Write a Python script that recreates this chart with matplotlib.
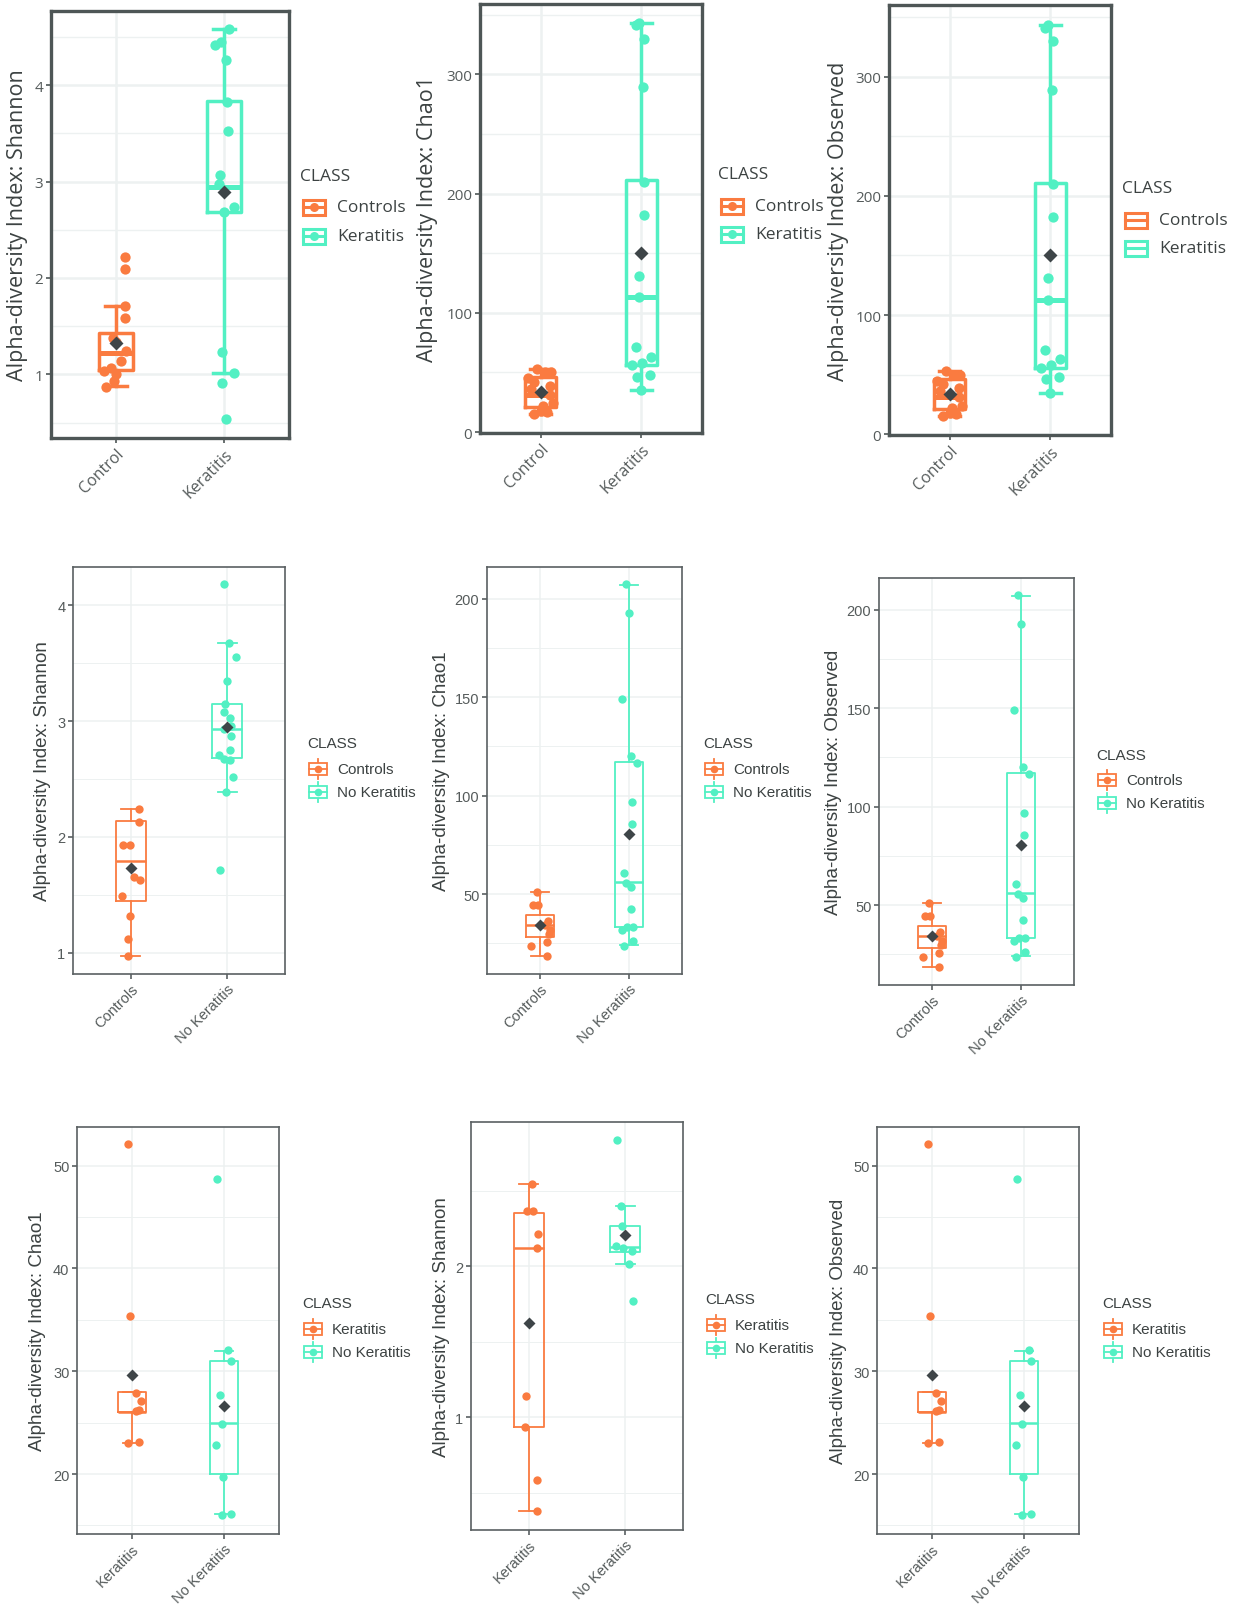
import numpy as np
import matplotlib
matplotlib.use('Agg')
from matplotlib import pyplot as plt
from matplotlib.patches import Rectangle

W, H = 1234, 1606
ORANGE = '#FA7B40'
TEAL = '#52F0C3'
MEAN_C = '#3E4548'
GRID_C = '#EDF1F1'

# --- Shannon : Control / Keratitis (row 1, left)
sh1_ctrl = [2.22, 2.09, 1.71, 1.59, 1.38, 1.34, 1.24, 1.14, 1.07, 1.04, 1.00, 0.93, 0.87]
sh1_ctrl_jit = [0.08, 0.08, 0.08, 0.08, -0.03, 0.0, 0.09, 0.05, -0.05, -0.11, 0.0, -0.02, -0.09]
sh1_ker = [4.58, 4.45, 4.42, 4.26, 3.83, 3.53, 3.07, 2.97, 2.74, 2.68, 1.23, 1.01, 0.91, 0.54]
sh1_ker_jit = [0.05, -0.03, -0.08, 0.02, 0.03, 0.04, -0.04, -0.05, 0.09, 0.0, -0.02, 0.09, -0.02, 0.02]
sh1_box = [[0.88, 1.05, 1.22, 1.43, 1.71], [1.01, 2.68, 2.94, 3.84, 4.58]]
sh1_mean = [1.33, 2.89]

# --- Chao1 / Observed : Control / Keratitis (row 1, middle and right)
ch1_ctrl = [53, 50, 50, 45, 42, 39, 36, 31, 24, 22, 18, 15, 17]
ch1_ctrl_jit = [-0.04, 0.04, 0.10, -0.12, -0.06, 0.09, -0.09, 0.09, 0.12, 0.02, 0.0, -0.06, 0.06]
ch1_ker = [341, 343, 330, 289, 210, 182, 131, 113, 71, 56, 58, 63, 48, 46, 35]
ch1_ker_jit = [-0.05, -0.02, 0.03, 0.02, 0.03, 0.03, -0.02, -0.02, -0.05, -0.09, 0.01, 0.09, 0.08, -0.04, 0.0]
ch1_box = [[15, 21, 31, 46, 53], [35, 56, 113, 211, 343]]
ch1_mean = [34, 150]

# --- Shannon : Controls / No Keratitis (row 2, left)
sh2_ctrl = [2.24, 2.13, 1.93, 1.93, 1.65, 1.63, 1.49, 1.32, 1.12, 0.97]
sh2_ctrl_jit = [0.08, 0.08, -0.08, -0.01, 0.03, 0.10, -0.09, -0.01, -0.03, -0.03]
sh2_nok = [4.18, 3.67, 3.55, 3.35, 3.15, 3.08, 3.03, 2.96, 2.93, 2.87, 2.75, 2.71, 2.67, 2.66, 2.52, 2.39, 1.71]
sh2_nok_jit = [-0.03, 0.02, 0.09, 0.0, -0.02, -0.03, 0.03, 0.04, -0.03, 0.04, 0.03, -0.08, -0.03, 0.03, 0.06, -0.01, -0.07]
sh2_box = [[0.97, 1.45, 1.79, 2.135, 2.24], [2.39, 2.68, 2.93, 3.15, 3.67]]
sh2_mean = [1.73, 2.95]

# --- Chao1 / Observed : Controls / No Keratitis (row 2, middle and right)
ch2_ctrl = [51.2, 44.6, 44.6, 36.5, 34.3, 32.0, 29.7, 23.8, 25.8, 18.7]
ch2_ctrl_jit = [-0.04, -0.08, -0.02, 0.09, 0.05, 0.11, 0.10, -0.10, 0.08, 0.08]
ch2_nok = [207.2, 192.8, 148.8, 120.0, 116.7, 96.7, 85.7, 60.7, 55.8, 53.6, 42.6, 32.0, 33.2, 33.2, 23.9, 26.0]
ch2_nok_jit = [-0.03, 0.0, -0.08, 0.02, 0.09, 0.04, 0.04, -0.06, -0.03, 0.03, 0.03, -0.08, -0.02, 0.05, -0.05, 0.05]
ch2_box = [[18.7, 28.5, 34.3, 39.5, 51.2], [24.0, 33.2, 56.0, 117.0, 207.0]]
ch2_mean = [34.3, 80.3]

# --- Chao1 / Observed : Keratitis / No Keratitis (row 3, left and right)
ch3_ker = [52.1, 35.4, 27.9, 27.1, 26.2, 26.1, 23.0, 23.1]
ch3_ker_jit = [-0.04, -0.02, 0.04, 0.10, 0.08, 0.04, -0.04, 0.08]
ch3_nok = [48.7, 32.1, 31.0, 27.7, 24.9, 22.85, 19.7, 16.05, 16.1]
ch3_nok_jit = [-0.08, 0.05, 0.08, -0.04, -0.02, -0.09, -0.01, -0.02, 0.08]
ch3_box = [[23.0, 26.0, 26.0, 28.0, 28.0], [16.1, 20.0, 25.0, 31.0, 32.0]]
ch3_mean = [29.6, 26.6]

# --- Shannon : Keratitis / No Keratitis (row 3, middle)
sh3_ker = [2.546, 2.363, 2.367, 2.217, 2.12, 1.139, 0.936, 0.582, 0.376]
sh3_ker_jit = [0.03, -0.02, 0.04, 0.10, 0.08, -0.03, -0.04, 0.08, 0.09]
sh3_nok = [2.834, 2.396, 2.27, 2.137, 2.12, 2.10, 2.015, 1.77]
sh3_nok_jit = [-0.09, -0.04, -0.03, -0.10, -0.02, 0.07, 0.04, 0.08]
sh3_box = [[0.376, 0.936, 2.12, 2.356, 2.544], [2.015, 2.097, 2.126, 2.27, 2.396]]
sh3_mean = [1.624, 2.208]

cats_ck = ["Control", "Keratitis"]
cats_cn = ["Controls", "No Keratitis"]
cats_kn = ["Keratitis", "No Keratitis"]
leg_ck = ["Controls", "Keratitis"]
leg_cn = ["Controls", "No Keratitis"]
leg_kn = ["Keratitis", "No Keratitis"]


def add_axes_px(fig, x0, y0, x1, y1):
    return fig.add_axes([x0 / W, 1 - y1 / H, (x1 - x0) / W, (y1 - y0) / H])


def draw_panel(ax, groups, jits, boxes, means, row1):
    lw = 2.5 if row1 else 1.3
    mlw = 3.6 if row1 else 1.8
    ms = 7.4 if row1 else 6.0
    for i, c in enumerate([ORANGE, TEAL]):
        pos = i + 1
        b = boxes[i]
        st = [dict(whislo=b[0], q1=b[1], med=b[2], q3=b[3], whishi=b[4], fliers=[])]
        ax.bxp(st, positions=[pos], widths=0.31, capwidths=0.2, showfliers=False,
               manage_ticks=False, zorder=2,
               boxprops=dict(color=c, lw=lw), whiskerprops=dict(color=c, lw=lw),
               capprops=dict(color=c, lw=lw), medianprops=dict(color=c, lw=mlw))
        ax.plot(pos + np.array(jits[i]), groups[i], 'o', color=c, ms=ms, mec='none', zorder=3)
        ax.plot(pos, means[i], 'D', color=MEAN_C, ms=ms * 1.0, mec='none', zorder=4)


def style_axes(ax, ylim, yticks, yminor, cats, ylabel, label_dx, row1):
    font = 'Open Sans' if row1 else 'Liberation Sans'
    ax.set_xlim(0.4, 2.6)
    ax.set_ylim(*ylim)
    ax.set_yticks(yticks)
    ax.set_yticklabels([str(t) for t in yticks], family=font, fontsize=11 if row1 else 10.5,
                       color='#555B5B')
    ax.set_yticks(yminor, minor=True)
    ax.set_xticks([1, 2])
    ax.set_xticklabels(cats, rotation=45, ha='right', va='top', rotation_mode='anchor',
                       family=font, fontsize=11.5 if row1 else 10.5, color='#555B5B')
    ax.grid(which='major', color=GRID_C, lw=1.8 if row1 else 1.1, zorder=0)
    ax.grid(which='minor', axis='y', color=GRID_C, lw=1.0 if row1 else 0.7, zorder=0)
    ax.set_axisbelow(True)
    sc = '#4E5656' if row1 else '#5A6062'
    for s in ax.spines.values():
        s.set_linewidth(2.4 if row1 else 1.2)
        s.set_color(sc)
    ax.tick_params(which='major', length=3.5, width=1.2, color=sc, pad=2)
    ax.tick_params(which='minor', length=0)
    ax.set_ylabel(ylabel, family=font, fontsize=15.5 if row1 else 13.5, color='#3C4242')
    w = ax.get_position().width * W
    ax.yaxis.set_label_coords(-label_dx / w, 0.5)
    ax.yaxis.label.set_va('center')


def draw_legend(ov, x, y_title, ys, labels, kind):
    row1 = kind in ('full', 'box')
    font = 'Open Sans' if row1 else 'Liberation Sans'
    fs = 12.5 if row1 else 11
    ov.text(x, y_title, "CLASS", family=font, fontsize=fs, color='#3C4242', va='center', ha='left')
    for y, lab, c in zip(ys, labels, [ORANGE, TEAL]):
        if row1:
            kx, kw, kh, lw, tx = x + 3, 22, 15, 2.2, x + 37
        else:
            kx, kw, kh, lw, tx = x + 2, 18, 12, 1.3, x + 30
        if kind == 'errbar':
            ov.plot([kx + kw / 2, kx + kw / 2], [y - 10, y + 10], color=c, lw=lw)
        ov.add_patch(Rectangle((kx, y - kh / 2), kw, kh, fill=True, fc='white', ec=c, lw=lw, zorder=3))
        ov.plot([kx, kx + kw], [y, y], color=c, lw=lw, zorder=4)
        if kind != 'box':
            ov.plot(kx + kw / 2, y, 'o', color=c, ms=6.5 if row1 else 5.5, mec='none', zorder=5)
        ov.text(tx, y, lab, family=font, fontsize=fs, color='#3C4242', va='center', ha='left')


fig = plt.figure(figsize=(W / 100, H / 100), dpi=100)

# row 1
ax = add_axes_px(fig, 51, 12, 289, 439)
draw_panel(ax, [sh1_ctrl, sh1_ker], [sh1_ctrl_jit, sh1_ker_jit], sh1_box, sh1_mean, True)
style_axes(ax, (0.34, 4.77), [1, 2, 3, 4], [0.5, 1.5, 2.5, 3.5, 4.5], cats_ck,
           "Alpha-diversity Index: Shannon", 34, True)

ax = add_axes_px(fig, 480, 5, 702, 434)
draw_panel(ax, [ch1_ctrl, ch1_ker], [ch1_ctrl_jit, ch1_ker_jit], ch1_box, ch1_mean, True)
style_axes(ax, (-0.8, 359), [0, 100, 200, 300], [50, 150, 250, 350], cats_ck,
           "Alpha-diversity Index: Chao1", 52, True)

ax = add_axes_px(fig, 889, 6, 1111, 436)
draw_panel(ax, [ch1_ctrl, ch1_ker], [ch1_ctrl_jit, ch1_ker_jit], ch1_box, ch1_mean, True)
style_axes(ax, (-0.6, 360), [0, 100, 200, 300], [50, 150, 250, 350], cats_ck,
           "Alpha-diversity Index: Observed", 51, True)

# row 2
ax = add_axes_px(fig, 73, 568, 285, 975)
draw_panel(ax, [sh2_ctrl, sh2_nok], [sh2_ctrl_jit, sh2_nok_jit], sh2_box, sh2_mean, False)
style_axes(ax, (0.816, 4.33), [1, 2, 3, 4], [1.5, 2.5, 3.5], cats_cn,
           "Alpha-diversity Index: Shannon", 30, False)

ax = add_axes_px(fig, 487, 568, 682, 975)
draw_panel(ax, [ch2_ctrl, ch2_nok], [ch2_ctrl_jit, ch2_nok_jit], ch2_box, ch2_mean, False)
style_axes(ax, (9.5, 216), [50, 100, 150, 200], [25, 75, 125, 175], cats_cn,
           "Alpha-diversity Index: Chao1", 45, False)

ax = add_axes_px(fig, 879, 579, 1074, 986)
draw_panel(ax, [ch2_ctrl, ch2_nok], [ch2_ctrl_jit, ch2_nok_jit], ch2_box, ch2_mean, False)
style_axes(ax, (9.5, 216), [50, 100, 150, 200], [25, 75, 125, 175], cats_cn,
           "Alpha-diversity Index: Observed", 46, False)

# row 3
ax = add_axes_px(fig, 77, 1128, 279, 1535)
draw_panel(ax, [ch3_ker, ch3_nok], [ch3_ker_jit, ch3_nok_jit], ch3_box, ch3_mean, False)
style_axes(ax, (14.17, 53.75), [20, 30, 40, 50], [15, 25, 35, 45], cats_kn,
           "Alpha-diversity Index: Chao1", 39, False)

ax = add_axes_px(fig, 471, 1123, 683, 1531)
draw_panel(ax, [sh3_ker, sh3_nok], [sh3_ker_jit, sh3_nok_jit], sh3_box, sh3_mean, False)
style_axes(ax, (0.252, 2.956), [1, 2], [0.5, 1.5, 2.5], cats_kn,
           "Alpha-diversity Index: Shannon", 29, False)

ax = add_axes_px(fig, 877, 1128, 1079, 1535)
draw_panel(ax, [ch3_ker, ch3_nok], [ch3_ker_jit, ch3_nok_jit], ch3_box, ch3_mean, False)
style_axes(ax, (14.17, 53.75), [20, 30, 40, 50], [15, 25, 35, 45], cats_kn,
           "Alpha-diversity Index: Observed", 39, False)

# legends, drawn in pixel coordinates on an overlay
ov = fig.add_axes([0, 0, 1, 1], zorder=10)
ov.set_xlim(0, W)
ov.set_ylim(H, 0)
ov.axis('off')
ov.patch.set_alpha(0)

draw_legend(ov, 300, 177, [208, 237], leg_ck, 'full')
draw_legend(ov, 718, 175, [207, 235], leg_ck, 'full')
draw_legend(ov, 1122, 189, [221, 249], leg_ck, 'box')
draw_legend(ov, 307, 744, [770, 793], leg_cn, 'errbar')
draw_legend(ov, 703, 744, [770, 793], leg_cn, 'errbar')
draw_legend(ov, 1096, 756, [781, 804], leg_cn, 'errbar')
draw_legend(ov, 302, 1304, [1330, 1353], leg_kn, 'errbar')
draw_legend(ov, 705, 1300, [1326, 1349], leg_kn, 'errbar')
draw_legend(ov, 1102, 1304, [1330, 1353], leg_kn, 'errbar')

fig.savefig("out.png", dpi=100, facecolor='white')
